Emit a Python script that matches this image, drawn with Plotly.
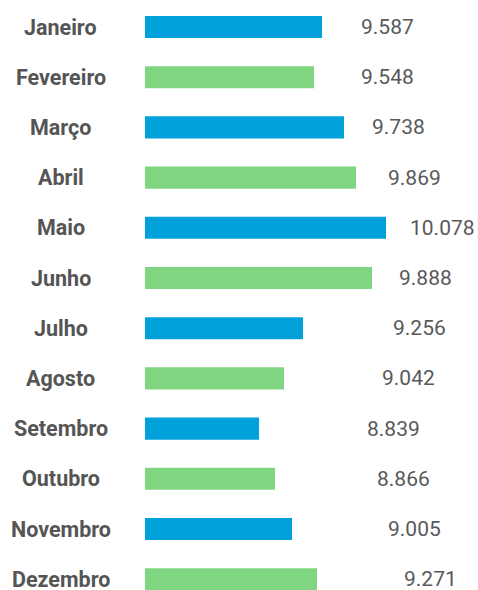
import plotly.graph_objects as go

months = ["Janeiro", "Fevereiro", "Março", "Abril", "Maio", "Junho",
          "Julho", "Agosto", "Setembro", "Outubro", "Novembro", "Dezembro"]
value_labels = ["9.587", "9.548", "9.738", "9.869", "10.078", "9.888",
                "9.256", "9.042", "8.839", "8.866", "9.005", "9.271"]
# bar lengths as drawn (arbitrary units)
bar_lengths = [177, 169, 199, 211, 241, 227, 158, 139, 114, 130, 147, 172]
# where each value label starts (same units)
label_start = [215.5, 215.5, 226.5, 242.5, 264.5, 253.5, 247.5, 236.5, 221.5, 231.5, 242.5, 258.5]

BLUE = "#00A0DB"
GREEN = "#80D680"
colors = [BLUE if i % 2 == 0 else GREEN for i in range(len(months))]

fig = go.Figure(go.Bar(
    x=bar_lengths, y=months, orientation="h",
    marker=dict(color=colors, line=dict(width=0)),
    width=0.44, hoverinfo="skip",
))

annotations = []
for m, lab, lx in zip(months, value_labels, label_start):
    annotations.append(dict(
        x=lx, y=m, xref="x", yref="y", text=lab, showarrow=False,
        xanchor="left", yanchor="middle", borderpad=0, borderwidth=0,
        font=dict(family="Roboto", size=21, color="#595959"),
    ))
    annotations.append(dict(
        x=(60.5 - 145) / 333, y=m, xref="paper", yref="y",
        text="<b>" + m + "</b>", showarrow=False,
        xanchor="center", yanchor="middle",
        font=dict(family="Roboto", size=21.5, color="#555555"),
    ))

fig.update_layout(
    width=478, height=590,
    margin=dict(l=145, r=0, t=0, b=0),
    paper_bgcolor="white", plot_bgcolor="white",
    showlegend=False,
    xaxis=dict(range=[0, 333], visible=False, fixedrange=True),
    yaxis=dict(type="category", categoryorder="array", categoryarray=months,
               range=[11.215, -0.538], visible=False, fixedrange=True),
    annotations=annotations,
)

fig.write_html(
    "out.html",
    config={"displayModeBar": False},
    post_script="document.body.style.margin='0';document.body.style.overflow='hidden';",
)
